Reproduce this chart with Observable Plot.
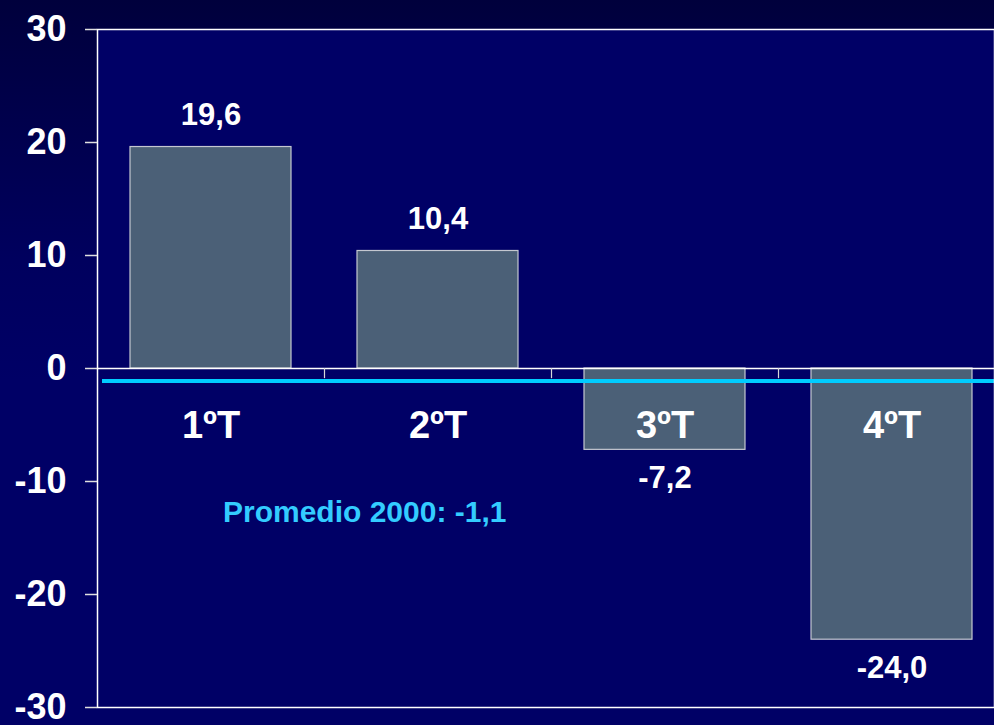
<!DOCTYPE html>
<html>
<head>
<meta charset="utf-8">
<script src="https://cdn.jsdelivr.net/npm/d3@7"></script>
<script src="https://cdn.jsdelivr.net/npm/@observablehq/plot@0.6"></script>
<style>
  html, body { margin: 0; padding: 0; }
  body {
    width: 994px; height: 725px; overflow: hidden;
    background: linear-gradient(to bottom, #00003c 0px, #00004c 120px, #00005e 260px, #000066 380px, #000066 725px);
  }
  #chart svg { display: block; }
</style>
</head>
<body>
<div id="chart"></div>
<script>
const categories = ["1ºT", "2ºT", "3ºT", "4ºT"];
const values = [19.6, 10.4, -7.2, -24.0];
const averageValue = -1.1;
const averageLabel = "Promedio 2000: -1,1";
const yTicks = [-30, -20, -10, 0, 10, 20, 30];

const data = categories.map((c, i) => ({cat: c, value: values[i]}));
const fmt = v => v.toFixed(1).replace(".", ",");

const xRange = [97, 1005];
const step = (xRange[1] - xRange[0]) / categories.length;

const chart = Plot.plot({
  width: 994,
  height: 725,
  marginTop: 29,
  marginBottom: 18,
  marginLeft: 97,
  marginRight: 0,
  style: {
    background: "transparent",
    color: "white",
    fontFamily: "'Liberation Sans', Arial, sans-serif",
    fontWeight: "bold",
    overflow: "visible"
  },
  x: {domain: categories, range: xRange, paddingInner: 0.29, paddingOuter: 0.145, axis: null},
  y: {domain: [-30, 30], axis: null, label: null},
  marks: [
    Plot.frame({fill: "#000066", stroke: "none"}),
    Plot.barY(data, {x: "cat", y: "value", fill: "#4b6077", stroke: "#c4c8d0", strokeWidth: 1.2}),
    Plot.ruleY([0], {stroke: "white", strokeWidth: 1.5}),
    Plot.ruleX(categories.slice(0, -1), {x: d => d, dx: step / 2, y1: 0, y2: -0.9, stroke: "#d8d8d8", strokeWidth: 1.2}),
    Plot.ruleY([averageValue], {stroke: "#00ccff", strokeWidth: 4, insetLeft: 5}),
    Plot.frame({stroke: "white", strokeWidth: 1.5, fill: "none"}),
    Plot.axisY({ticks: yTicks, label: null, tickSize: 12, tickPadding: 19, fontSize: 36, fontWeight: "bold", stroke: "#e0e0e0", strokeWidth: 1.5, tickFormat: d => String(d)}),
    Plot.text(data.filter(d => d.value >= 0), {x: "cat", y: "value", text: d => fmt(d.value), dy: -32, fontSize: 31, fontWeight: "bold", fill: "white"}),
    Plot.text(data.filter(d => d.value < 0), {x: "cat", y: "value", text: d => fmt(d.value), dy: 28, fontSize: 31, fontWeight: "bold", fill: "white"}),
    Plot.text(categories, {x: d => d, y: () => 0, dy: 57, fontSize: 38, fontWeight: "bold", fill: "white"}),
    Plot.text([averageLabel], {x: () => categories[0], y: () => averageValue, dy: 131, dx: 12, textAnchor: "start", fontSize: 30, fontWeight: "bold", fill: "#33ccff"})
  ]
});
document.getElementById("chart").appendChild(chart);
</script>
</body>
</html>
